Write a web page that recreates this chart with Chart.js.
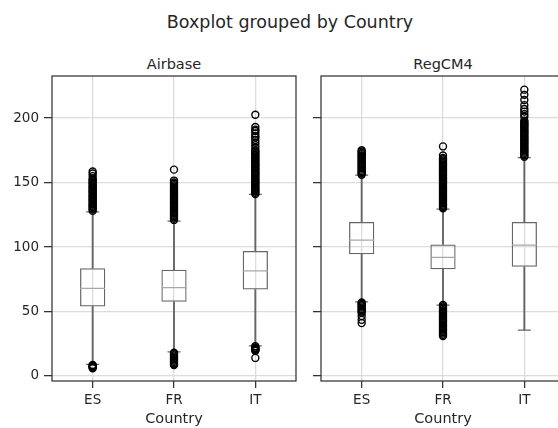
<!DOCTYPE html>
<html>
<head>
<meta charset="utf-8">
<script src="https://cdn.jsdelivr.net/npm/chart.js@4.4.0/dist/chart.umd.min.js"></script>
<style>
html, body { margin: 0; overflow: hidden; }
body { width: 558px; height: 428px; background: #fff; font-family: "DejaVu Sans"; color: #262626; position: relative; }
.panel { position: absolute; top: 0; width: 300px; height: 428px; }
.t { position: absolute; transform: translate(-50%, -50%); white-space: nowrap; line-height: 1; }
</style>
</head>
<body>
<div class="t" style="left:290px;top:23px;font-size:17.5px">Boxplot grouped by Country</div>
<div class="t" style="left:174px;top:64px;font-size:14.5px">Airbase</div>
<div class="t" style="left:443px;top:64px;font-size:14.5px">RegCM4</div>
<div class="panel" style="left:0"><canvas id="airbase"></canvas></div>
<div class="panel" style="left:269px"><canvas id="regcm4"></canvas></div>
<script>
const countries = ['ES', 'FR', 'IT'];
const yTicks = [0, 50, 100, 150, 200];

// Airbase box stats
const airQ1 = [53.9, 57.5, 67.0];
const airMed = [67.9, 68.6, 81.5];
const airQ3 = [83.6, 82.3, 97.0];
const airLo = [8.9, 18.6, 23.3];
const airHi = [127.3, 120.0, 140.8];

// RegCM4 box stats
const regQ1 = [94.3, 82.8, 84.6];
const regMed = [105.4, 91.9, 101.5];
const regQ3 = [119.3, 102.0, 119.3];
const regLo = [57.5, 54.9, 35.5];
const regHi = [155.8, 129.4, 169.3];

// outliers (fliers)
const airEsOut = [128, 129, 130, 131, 132, 133, 134, 135, 136, 137, 138, 139, 140, 141, 142, 143, 144, 145, 146, 147, 148, 149, 150, 151, 152, 153, 155, 157, 158.5,
  8.5, 8, 7.5, 7, 6.5, 6];
const airFrOut = [121, 122, 123, 124, 125, 126, 127, 128, 129, 130, 131, 132, 133, 134, 135, 136, 137, 138, 139, 140, 141, 142, 143, 144, 145, 146, 147, 148, 149, 150, 151.5, 160,
  18, 17, 16, 15, 14, 13, 12, 11, 10, 9, 8.5];
const airItOut = [141, 142, 143, 144, 145, 146, 147, 148, 149, 150, 151, 152, 153, 154, 155, 156, 157, 158, 159, 160, 161, 162, 163, 164, 165, 166, 167, 168, 169, 170, 171, 172, 173, 174, 175,
  177, 179, 181, 183, 185, 186, 188, 190, 191, 193, 202.6,
  23, 22, 21.5, 21, 20.5, 20, 19.5, 14];
const regEsOut = [156, 157, 158, 159, 160, 161, 162, 163, 164, 165, 166, 167, 168, 169, 170, 171, 172, 173, 174, 175,
  57, 56, 55, 54, 53, 52, 51, 50, 49, 46.5, 43.5, 41];
const regFrOut = [130, 131, 132, 133, 134, 135, 136, 137, 138, 139, 140, 141, 142, 143, 144, 145, 146, 147, 148, 149, 150, 151, 152, 153, 154, 155, 156, 157, 158, 159, 160, 161, 162, 163, 164, 165, 166, 167, 168, 169, 171, 178,
  55, 54, 53, 52, 51, 50, 49, 48, 47, 46, 45, 44, 43, 42, 41, 40, 39, 38, 37, 36, 35, 34, 33, 32, 31];
const regItOut = [170, 171, 172, 173, 174, 175, 176, 177, 178, 179, 180, 181, 182, 183, 184, 185, 186, 187, 188, 189, 190, 191, 192, 193, 194, 195, 196, 197, 198,
  201, 203, 205, 207, 210, 214, 218, 222];

const boxColor = '#666666';
const medColor = '#a8a8a8';
const textColor = '#262626';

const frame = {
  id: 'frame',
  afterDatasetsDraw(chart) {
    const a = chart.chartArea;
    const ctx = chart.ctx;
    ctx.save();
    ctx.strokeStyle = '#333';
    ctx.lineWidth = 1.25;
    ctx.strokeRect(a.left, a.top, a.right - a.left, a.bottom - a.top);
    ctx.restore();
  }
};

function pts(vals) {
  return vals.map((v, i) => ({x: countries[i], y: v}));
}

function makeChart(id, q1, med, q3, lo, hi, outs, showLabels) {
  const fliers = [];
  outs.forEach((list, i) => list.forEach(v => fliers.push({x: countries[i], y: v})));
  new Chart(document.getElementById(id), {
    type: 'bar',
    data: {
      labels: countries,
      datasets: [
        {type: 'line', data: fliers, showLine: false, pointStyle: 'circle', pointRadius: 3.5,
          pointBorderWidth: 1.4, pointBorderColor: '#000', pointBackgroundColor: 'rgba(0,0,0,0)'},
        {type: 'line', data: pts(med), showLine: false, pointStyle: 'line', pointRadius: 12.5,
          pointBorderWidth: 1.25, pointBorderColor: medColor},
        {type: 'line', data: pts(lo), showLine: false, pointStyle: 'line', pointRadius: 6.5,
          pointBorderWidth: 1.25, pointBorderColor: boxColor},
        {type: 'line', data: pts(hi), showLine: false, pointStyle: 'line', pointRadius: 6.5,
          pointBorderWidth: 1.25, pointBorderColor: boxColor},
        {data: q1.map((v, i) => [v, q3[i]]), grouped: false, barPercentage: 0.31, categoryPercentage: 1,
          backgroundColor: 'rgba(0,0,0,0)', borderColor: boxColor, borderWidth: 1.25, borderSkipped: false},
        {data: lo.map((v, i) => [v, q1[i]]), grouped: false, barThickness: 1.25, backgroundColor: boxColor, borderWidth: 0},
        {data: q3.map((v, i) => [v, hi[i]]), grouped: false, barThickness: 1.25, backgroundColor: boxColor, borderWidth: 0}
      ]
    },
    options: {
      responsive: true,
      maintainAspectRatio: false,
      animation: false,
      events: [],
      layout: {autoPadding: false, padding: {top: 76, right: 4, left: 0, bottom: 0}},
      plugins: {legend: {display: false}, tooltip: {enabled: false}},
      scales: {
        x: {
          offset: true,
          grid: {offset: false, color: '#dcdcdc', lineWidth: 1.3, tickLength: 7, tickColor: '#333', tickWidth: 1.25},
          border: {display: false},
          ticks: {color: textColor, font: {family: 'DejaVu Sans', size: 13.5}, padding: 4},
          title: {display: true, text: 'Country', color: textColor, font: {family: 'DejaVu Sans', size: 14.5}, padding: 0},
          afterFit: s => { s.height = 47; }
        },
        y: {
          min: -3.9,
          max: 232.6,
          afterBuildTicks: s => { s.ticks = yTicks.map(v => ({value: v})); },
          grid: {color: '#dcdcdc', lineWidth: 1.3, tickLength: 8, tickColor: '#333', tickWidth: 1.25},
          border: {display: false},
          ticks: {color: textColor, font: {family: 'DejaVu Sans', size: 13.5}, padding: 5,
            callback: v => showLabels ? v : ''},
          afterFit: s => { s.width = 52; }
        }
      }
    },
    plugins: [frame]
  });
}

makeChart('airbase', airQ1, airMed, airQ3, airLo, airHi, [airEsOut, airFrOut, airItOut], true);
makeChart('regcm4', regQ1, regMed, regQ3, regLo, regHi, [regEsOut, regFrOut, regItOut], false);
</script>
</body>
</html>
